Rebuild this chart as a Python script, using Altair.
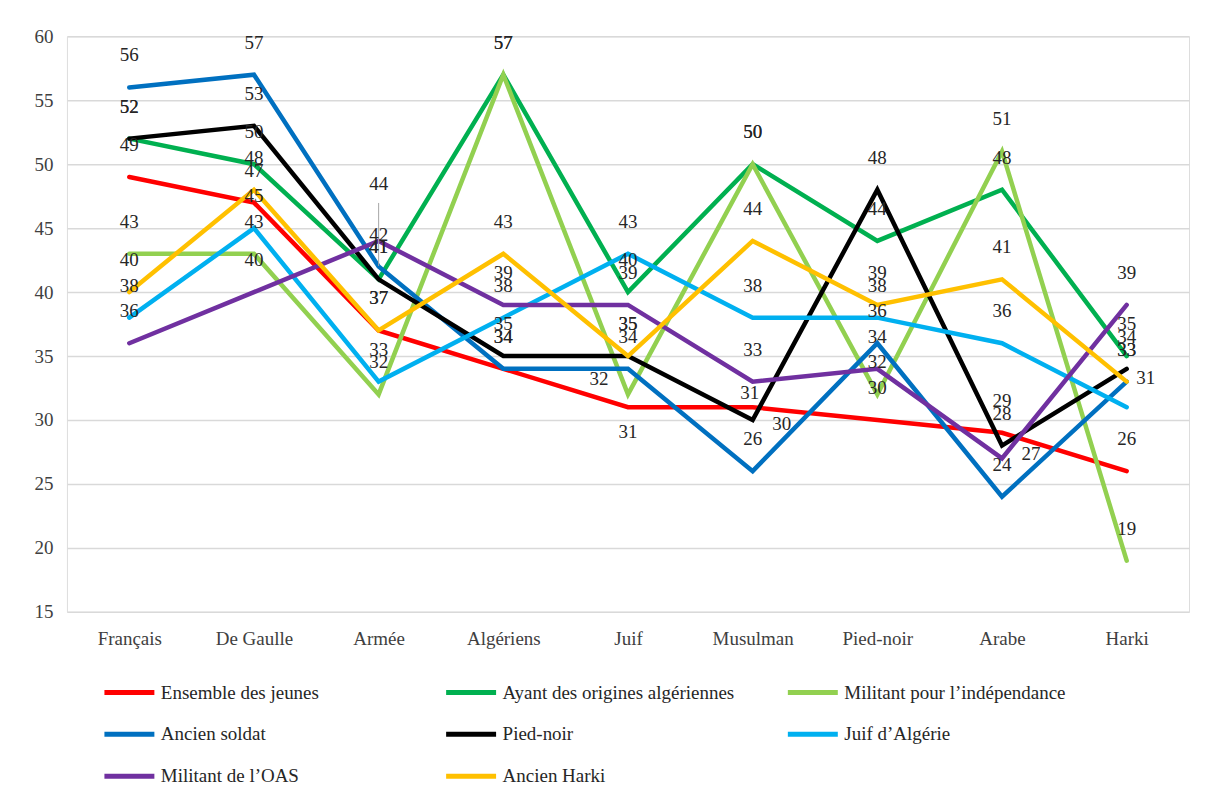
import altair as alt
import pandas as pd

categories = ["Français", "De Gaulle", "Armée", "Algériens", "Juif", "Musulman", "Pied-noir", "Arabe", "Harki"]

series_names = [
    "Ensemble des jeunes",
    "Ayant des origines algériennes",
    "Militant pour l’indépendance",
    "Ancien soldat",
    "Pied-noir",
    "Juif d’Algérie",
    "Militant de l’OAS",
    "Ancien Harki",
]

ensemble = [49, 47, 37, 34, 31, 31, 30, 29, 26]
ayant = [52, 50, 41, 57, 40, 50, 44, 48, 35]
militant_indep = [43, 43, 32, 57, 32, 50, 32, 51, 19]
ancien_soldat = [56, 57, 42, 34, 34, 26, 36, 24, 33]
pied_noir = [52, 53, 41, 35, 35, 30, 48, 28, 34]
juif = [38, 45, 33, 38, 43, 38, 38, 36, 31]
oas = [36, 40, 44, 39, 39, 33, 34, 27, 39]
harki = [40, 48, 37, 43, 35, 44, 39, 41, 33]

colors = ["#FF0000", "#00B050", "#92D050", "#0070C0", "#000000", "#00B0F0", "#7030A0", "#FFC000"]

all_values = [ensemble, ayant, militant_indep, ancien_soldat, pied_noir, juif, oas, harki]

rows = []
for si, (name, vals) in enumerate(zip(series_names, all_values)):
    for ci, (cat, v) in enumerate(zip(categories, vals)):
        rows.append({"serie": name, "categorie": cat, "valeur": v, "ci": ci,
                     "cle": name + "|" + cat})
df = pd.DataFrame(rows)

FONT = "Liberation Serif"

xscale = alt.Scale(type="point", padding=0.5)
yscale = alt.Scale(domain=[15, 60], nice=False, zero=False)

x = alt.X("categorie:N", sort=categories, title=None, scale=xscale,
          axis=alt.Axis(labelAngle=0, labelFontSize=19, labelFont=FONT, labelColor="#404040",
                        ticks=False, domain=False, grid=False, labelPadding=18))
y = alt.Y("valeur:Q", title=None, scale=yscale,
          axis=alt.Axis(values=list(range(15, 61, 5)), labelFontSize=19, labelFont=FONT,
                        labelColor="#404040", ticks=False, domain=False, grid=True,
                        gridColor="#D9D9D9", gridWidth=1.5, labelPadding=14))

color = alt.Color("serie:N", sort=series_names,
                  scale=alt.Scale(domain=series_names, range=colors),
                  legend=alt.Legend(title=None, orient="none", legendX=35, legendY=629,
                                    columns=3, direction="horizontal", gridAlign="all",
                                    symbolType="stroke", symbolStrokeWidth=5, symbolSize=2500,
                                    labelFont=FONT, labelFontSize=19, labelColor="#262626",
                                    labelLimit=400, columnPadding=43, rowPadding=4,
                                    labelOffset=4))

text_x = alt.X("categorie:N", sort=categories, scale=xscale)
text_y = alt.Y("valeur:Q", scale=yscale)

lines = alt.Chart(df).mark_line(strokeWidth=4.5, strokeCap="round", strokeJoin="miter").encode(
    x=x, y=y, color=color, detail="serie:N", order="ci:Q"
)

# thin leader line for the displaced label at Armée
leader = alt.Chart(df).transform_filter(
    alt.datum.cle == "Militant de l’OAS|Armée"
).mark_rule(color="#A6A6A6", strokeWidth=1, yOffset=-38, y2Offset=25).encode(
    x=text_x, y=text_y, y2="valeur:Q",
)

# label placement tweaks (style, not data): (series, category) -> (dx, dy)
label_shifts = {
    ("Militant de l’OAS", "Armée"): (0, -57),
    ("Ensemble des jeunes", "Juif"): (0, 25),
    ("Militant pour l’indépendance", "Juif"): (-29, -15),
    ("Ensemble des jeunes", "Musulman"): (-3, -14),
    ("Pied-noir", "Musulman"): (29, 4),
    ("Militant de l’OAS", "Arabe"): (29, -4),
    ("Juif d’Algérie", "Harki"): (19, -29),
}
special_keys = [s + "|" + c for (s, c) in label_shifts]

base_labels = alt.Chart(df).transform_filter(
    ~alt.FieldOneOfPredicate(field="cle", oneOf=special_keys)
).mark_text(font=FONT, fontSize=19, color="#262626", dy=-32,
            baseline="middle", align="center").encode(x=text_x, y=text_y, text="valeur:Q")

layers = [lines, leader, base_labels]
for (s, c), (ddx, ddy) in label_shifts.items():
    layers.append(
        alt.Chart(df).transform_filter(alt.datum.cle == s + "|" + c)
        .mark_text(font=FONT, fontSize=19, color="#262626", dx=ddx, dy=ddy,
                   baseline="middle", align="center")
        .encode(x=text_x, y=text_y, text="valeur:Q")
    )

chart = alt.layer(*layers).properties(
    width=1123, height=576,
    autosize=alt.AutoSizeParams(type="none"),
    padding={"left": 59, "top": 28, "right": 20, "bottom": 180},
).configure_view(stroke=None).configure(background="white")

chart.save("out.html", embed_options={"renderer": "svg", "actions": False})
